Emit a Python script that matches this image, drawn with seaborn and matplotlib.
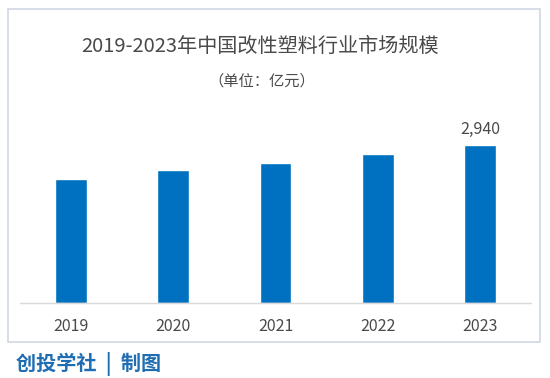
import seaborn as sns
from matplotlib import pyplot as plt
from matplotlib.patches import Rectangle

years = ['2019', '2020', '2021', '2022', '2023']
values = [2300, 2470, 2600, 2770, 2940]
label_year = '2023'
label_text = '2,940'

sns.set_style('white')
plt.rcParams['font.family'] = ['Noto Sans CJK SC', 'DejaVu Sans']

W, H = 550, 378
fig = plt.figure(figsize=(W / 100, H / 100), dpi=100)

# light border around the chart area
fig.patches.append(Rectangle((7.5 / W, 1 - 341.5 / H), 532.5 / W, 332.5 / H,
                             transform=fig.transFigure, fill=False,
                             edgecolor='#cfd8e3', linewidth=1.2))

ymax = 3500
px_per_unit = 158 / 2940
ax_h = ymax * px_per_unit
ax = fig.add_axes([20 / W, (H - 303) / H, 511 / W, ax_h / H])

sns.barplot(x=years, y=values, color='#0070C0', width=0.313, saturation=1, ax=ax)
ax.set_ylim(0, ymax)
ax.set_xlim(-0.5, 4.5)
ax.set_xlabel('')
ax.set_ylabel('')
ax.set_yticks([])
for s in ['top', 'right', 'left']:
    ax.spines[s].set_visible(False)
ax.spines['bottom'].set_color('#d9d9d9')
ax.spines['bottom'].set_linewidth(1)
ax.tick_params(axis='x', length=0, pad=10.5, labelsize=11.5, labelcolor='#4a4a4a')

i = years.index(label_year)
ax.annotate(label_text, (i, values[i]), xytext=(0, 5), textcoords='offset points',
            ha='center', va='bottom', fontsize=11.5, color='#4a4a4a')

fig.text(260 / W, 1 - 46 / H, '2019-2023年中国改性塑料行业市场规模',
         ha='center', va='center', fontsize=14.5, color='#4a4a4a')
fig.text(262 / W, 1 - 81 / H, '（单位：亿元）',
         ha='center', va='center', fontsize=11, color='#4a4a4a')
fig.text(16 / W, 1 - 364 / H, '创投学社  |  制图',
         ha='left', va='center', fontsize=14.5, color='#1f6db3', fontweight='bold')

fig.savefig('out.png', dpi=100)
